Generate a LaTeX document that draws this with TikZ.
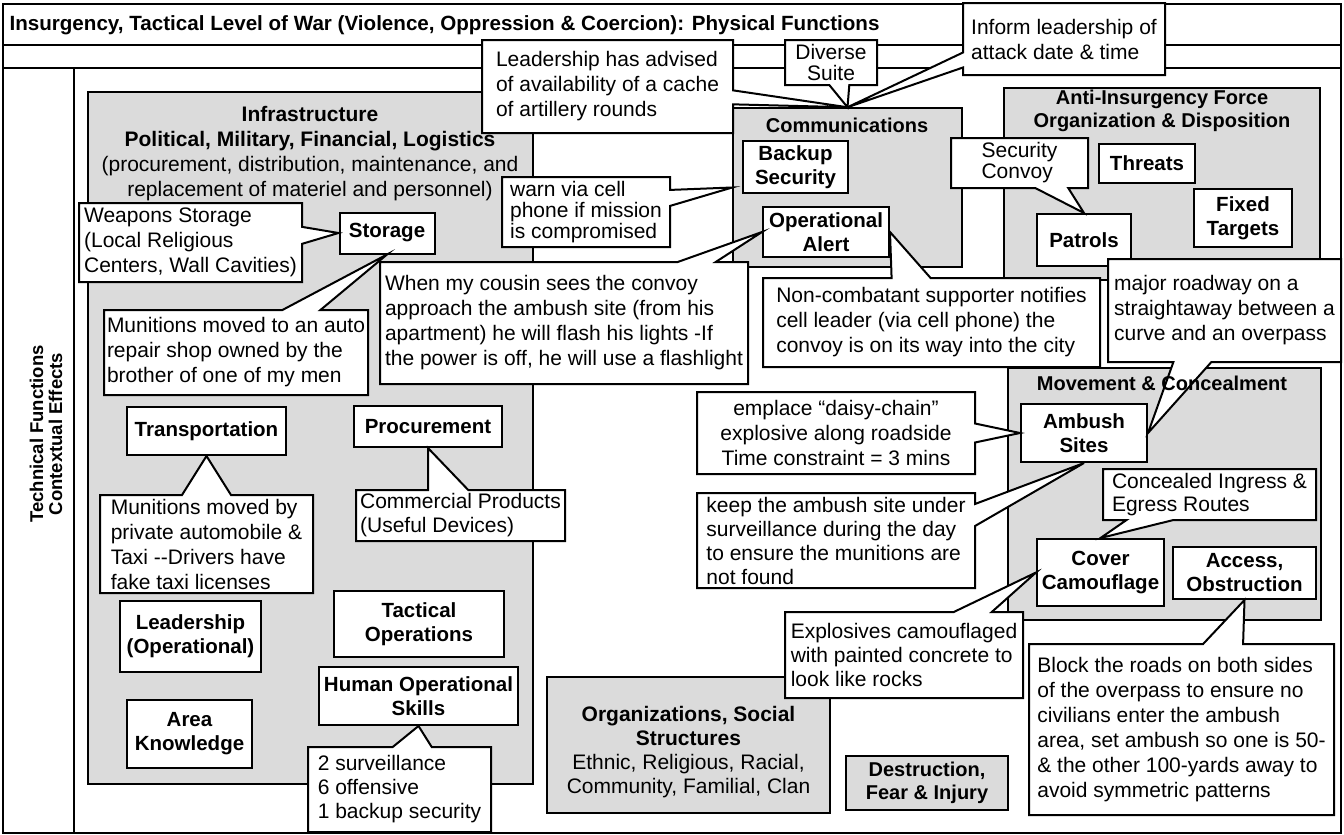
\documentclass[tikz,border=0pt]{standalone}
\usepackage{fontspec}
\setmainfont{Liberation Sans}
\usetikzlibrary{shapes.callouts}

\begin{document}
\begin{tikzpicture}[x=1pt,y=-1pt,
  font=\fontsize{21}{25}\selectfont,
  frame/.style={line width=1.4pt},
  gbox/.style={draw,fill=black!14,line width=1.5pt,inner sep=0pt,align=center},
  hdr/.style={align=center,font=\fontsize{20}{24}\selectfont\bfseries},
  lbl/.style={draw,fill=white,line width=2pt,align=center,inner sep=1pt,font=\fontsize{20.5}{24}\selectfont\bfseries},
  say/.style={rectangle callout,draw,fill=white,line width=2pt,align=left,inner sep=2pt,callout pointer width=#1},
  say/.default=38]
\useasboundingbox (0,0) rectangle (1344,835);
\draw[frame] (3,4) rectangle (1341,833);
\draw[frame] (3,45) -- (1341,45);
\draw[frame] (3,68) -- (1341,68);
\draw[frame] (74,68) -- (74,833);
\node[anchor=west,font=\fontsize{20.6}{25}\selectfont\bfseries] (title) at (6,25) {Insurgency, Tactical Level of War (Violence, Oppression \& Coercion): Physical Functions};
\node[rotate=90,align=center,font=\fontsize{18.5}{19}\selectfont\bfseries] (side) at (46,434) {Technical Functions\\Contextual Effects};
\node[gbox,minimum width=445,minimum height=692] (infra) at (310.5,438) {};
\node[gbox,minimum width=229,minimum height=159] (comm) at (847.5,187.5) {};
\node[gbox,minimum width=316,minimum height=192] (anti) at (1162,184) {};
\node[gbox,minimum width=313,minimum height=252] (move) at (1164.5,494) {};
\node[gbox,minimum width=283,minimum height=136] (org) at (688.5,745) {};
\node[gbox,minimum width=162,minimum height=54,font=\fontsize{20}{23}\selectfont\bfseries] (destr) at (927,783) {Destruction,\\Fear \& Injury};
\node[align=center] (infrahead) at (310,154) {\textbf{Infrastructure}\\\textbf{Political, Military, Financial, Logistics}\\(procurement, distribution, maintenance, and\\replacement of materiel and personnel)};
\node[align=center,font=\fontsize{21}{24}\selectfont] (orghead) at (688.5,752) {\textbf{Organizations, Social}\\\textbf{Structures}\\Ethnic, Religious, Racial,\\Community, Familial, Clan};
\node[hdr] (commhead) at (847,125) {Communications};
\node[hdr,font=\fontsize{20}{23}\selectfont\bfseries] (antihead) at (1162,111) {Anti-Insurgency Force\\Organization \& Disposition};
\node[lbl,minimum width=95,minimum height=41] (storage) at (387,233) {Storage};
\node[lbl,minimum width=105,minimum height=52] (backup) at (795.5,167) {Backup\\Security};
\node[lbl,minimum width=126,minimum height=50] (opalert) at (826,232) {Operational\\Alert};
\node[lbl,minimum width=96,minimum height=39] (threats) at (1147,163.5) {Threats};
\node[lbl,minimum width=98,minimum height=58] (fixed) at (1243,218) {Fixed\\Targets};
\node[lbl,minimum width=94,minimum height=52] (patrols) at (1084,240) {Patrols};
\node[lbl,minimum width=126,minimum height=58] (ambush) at (1084,433) {Ambush\\Sites};
\node[lbl,minimum width=127,minimum height=67] (cover) at (1100.5,572.5) {Cover\\Camouflage};
\node[lbl,minimum width=143,minimum height=52] (access) at (1244.5,573) {Access,\\Obstruction};
\node[lbl,minimum width=159,minimum height=48] (transport) at (206.5,431) {Transportation};
\node[lbl,minimum width=148,minimum height=41] (procure) at (428,426.5) {Procurement};
\node[lbl,minimum width=141,minimum height=71] (leader) at (190.5,636.5) {Leadership\\(Operational)};
\node[lbl,minimum width=170,minimum height=66] (tactical) at (419,624) {Tactical\\Operations};
\node[lbl,minimum width=199,minimum height=58] (human) at (418.5,696) {Human Operational\\Skills};
\node[lbl,minimum width=125,minimum height=68] (area) at (189.5,734) {Area\\Knowledge};
\node[say=14,callout absolute pointer={(comm.north)},minimum width=251,minimum height=93] (advised) at (607.5,86.5) {Leadership has advised\\of availability of a cache\\of artillery rounds};
\node[say=20,callout absolute pointer={(comm.north)},minimum width=92,minimum height=45,align=center,font=\fontsize{21}{21}\selectfont] (diverse) at (831,62.5) {Diverse\\Suite};
\node[say=15,callout absolute pointer={(comm.north)},minimum width=202,minimum height=72] (inform) at (1064,39) {Inform leadership of\\attack date \& time};
\node[say=16,callout absolute pointer={(comm.west)},minimum width=168,minimum height=70,font=\fontsize{21}{21}\selectfont] (warn) at (586,212) {warn via cell\\phone if mission\\is compromised};
\node[say=17,callout absolute pointer={(storage.west)},minimum width=223,minimum height=79] (weapons) at (190.5,242.5) {Weapons Storage\\(Local Religious\\Centers, Wall Cavities)};
\node[say,callout absolute pointer={(storage.south)},minimum width=264,minimum height=85] (repair) at (236,352.5) {Munitions moved to an auto\\repair shop owned by the\\brother of one of my men};
\node[say,callout absolute pointer={(opalert.west)},minimum width=368,minimum height=122] (cousin) at (564,323) {When my cousin sees the convoy\\approach the ambush site (from his\\apartment) he will flash his lights -If\\the power is off, he will use a flashlight};
\node[say=39,callout absolute pointer={(opalert.east)},minimum width=337,minimum height=89] (notify) at (931.5,322.5) {Non-combatant supporter notifies\\cell leader (via cell phone) the\\convoy is on its way into the city};
\node[say=33,callout absolute pointer={(patrols.north)},minimum width=137,minimum height=50,font=\fontsize{21}{21}\selectfont] (convoy) at (1019.5,163) {Security\\Convoy};
\node[say,callout absolute pointer={(ambush.east)},minimum width=233,minimum height=103] (roadway) at (1224.5,310.5) {major roadway on a\\straightaway between a\\curve and an overpass};
\node[say=19,callout absolute pointer={(ambush.west)},minimum width=278,minimum height=82,align=center] (emplace) at (836,433) {emplace “daisy-chain”\\explosive along roadside\\Time constraint = 3 mins};
\node[say=22,callout absolute pointer={(ambush.south)},minimum width=278,minimum height=95,font=\fontsize{21}{24}\selectfont] (watch) at (836,540.5) {keep the ambush site under\\surveillance during the day\\to ensure the munitions are\\not found};
\node[say=47,callout absolute pointer={(cover.north)},minimum width=213,minimum height=51,font=\fontsize{21}{23}\selectfont] (routes) at (1209.5,494.5) {Concealed Ingress \&\\Egress Routes};
\node[say,callout absolute pointer={(cover.west)},minimum width=238,minimum height=86,font=\fontsize{21}{24}\selectfont] (rocks) at (904,655) {Explosives camouflaged\\with painted concrete to\\look like rocks};
\node[say=40,callout absolute pointer={(access.south)},minimum width=305,minimum height=171] (block) at (1181.5,729.5) {Block the roads on both sides\\of the overpass to ensure no\\civilians enter the ambush\\area, set ambush so one is 50-\\\& the other 100-yards away to\\avoid symmetric patterns};
\node[say=49,callout absolute pointer={(transport.south)},minimum width=213,minimum height=98] (taxi) at (206.5,544) {Munitions moved by\\private automobile \&\\Taxi -{}-Drivers have\\fake taxi licenses};
\node[say=40,callout absolute pointer={(procure.south)},minimum width=209,minimum height=51,font=\fontsize{21}{24}\selectfont] (devices) at (460.5,515.5) {Commercial Products\\(Useful Devices)};
\node[say=39,callout absolute pointer={(human.south)},minimum width=183,minimum height=85,font=\fontsize{21}{24}\selectfont] (team) at (399.5,789.5) {2 surveillance\\6 offensive\\1 backup security};
\node[hdr] (movehead) at (1162,383) {Movement \& Concealment};
\end{tikzpicture}
\end{document}
